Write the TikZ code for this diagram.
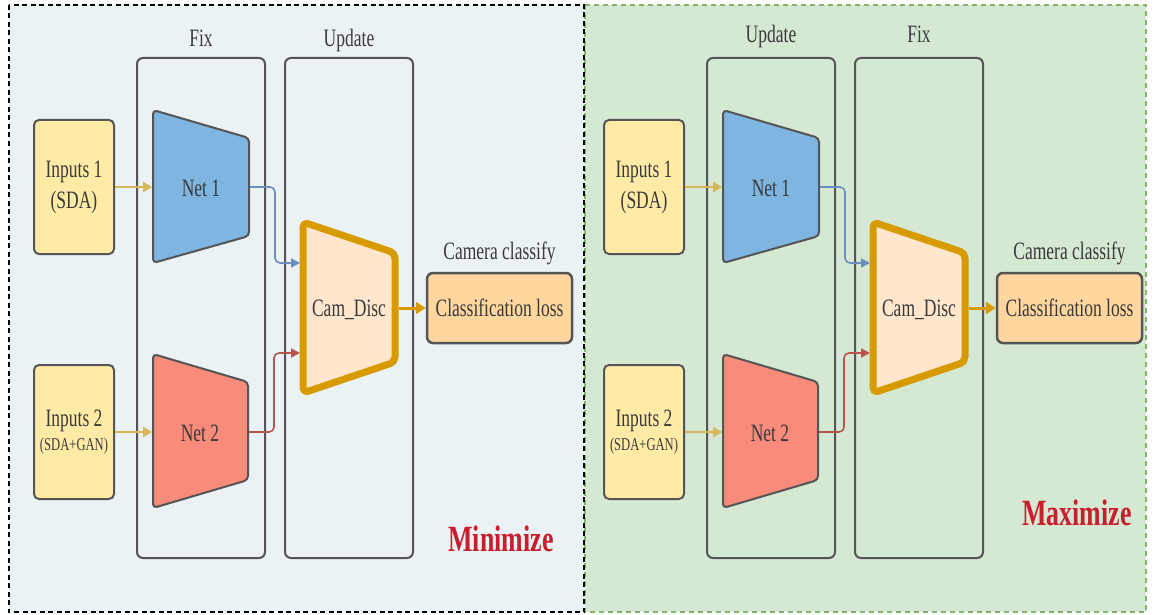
\documentclass[tikz,border=0pt]{standalone}
\usepackage{fontspec}
\usepackage{graphicx}
\setmainfont{Liberation Serif}
\usetikzlibrary{arrows.meta}
\definecolor{leftbg}{HTML}{EBF2F5}
\definecolor{rightbg}{HTML}{D5E8D4}
\definecolor{greenline}{HTML}{82B366}
\definecolor{inyellow}{HTML}{FFEBA6}
\definecolor{netblue}{HTML}{7EB6E1}
\definecolor{netred}{HTML}{F98B7B}
\definecolor{discfill}{HTML}{FFE6CC}
\definecolor{discline}{HTML}{D79B00}
\definecolor{lossfill}{HTML}{FFD69E}
\definecolor{boxline}{HTML}{555555}
\definecolor{txt}{HTML}{3A3A3A}
\definecolor{arrowyellow}{HTML}{D6B656}
\definecolor{arrowblue}{HTML}{6C8EBF}
\definecolor{arrowred}{HTML}{B85450}
\definecolor{wordred}{HTML}{C81E2D}
\newcommand\sq[1]{\scalebox{0.7}[1]{#1}}
\tikzset{
  txtfont/.style={font=\fontsize{25}{31}\selectfont, text=txt},
  inputbox/.style={draw=boxline, line width=2pt, fill=inyellow, rounded corners=5pt,
    minimum width=80pt, minimum height=134pt, inner sep=0pt, txtfont, align=center},
  groupbox/.style={draw=boxline, line width=2pt, rounded corners=6pt,
    minimum width=128pt, minimum height=500pt, inner sep=0pt},
  grouplabel/.style={txtfont, anchor=base},
  netshape/.style={draw=boxline, line width=2pt, rounded corners=4pt},
  disc/.style={draw=discline, fill=discfill, line width=7pt, rounded corners=5pt, line join=round},
  lossbox/.style={draw=boxline, line width=2.5pt, fill=lossfill, rounded corners=6pt,
    minimum width=145pt, minimum height=70pt, inner sep=0pt, txtfont},
  plain/.style={txtfont, inner sep=0pt},
  feed/.style={draw=arrowyellow, line width=2.5pt, -{Triangle[length=9pt,width=10pt]}},
  bluecon/.style={draw=arrowblue, line width=1.6pt, rounded corners=5pt, -{Triangle[length=9pt,width=9pt]}},
  redcon/.style={draw=arrowred, line width=1.6pt, rounded corners=5pt, -{Triangle[length=9pt,width=9pt]}},
  outcon/.style={draw=discline, line width=3pt, -{Triangle[length=10pt,width=12pt]}},
  bigword/.style={font=\fontsize{37}{40}\selectfont\bfseries, text=wordred, anchor=base, inner sep=0pt},
}
\newcommand\DrawPanel[7]{%
  \node[groupbox] (ga#1) at (201,308) {};
  \node[groupbox] (gb#1) at (349,308) {};
  \node[grouplabel] (la#1) at (201,#4) {\sq{#2}};
  \node[grouplabel] (lb#1) at (349,#4) {\sq{#3}};
  \node[inputbox] (in1#1) at (74,187) {\sq{Inputs 1}\\\sq{(SDA)}};
  \node[inputbox] (in2#1) at (74,432) {\begin{tabular}{@{}c@{}}\sq{Inputs 2}\\[-7pt]{\fontsize{18}{22}\selectfont\sq{(SDA+GAN)}}\end{tabular}};
  \draw[netshape, fill=netblue] (153,110) -- (249,138) -- (249,236) -- (153,263) -- cycle;
  \draw[netshape, fill=netred] (153,354) -- (248,382) -- (248,480) -- (153,508) -- cycle;
  \node[plain] (net1#1) at (201,188) {\sq{Net 1}};
  \node[plain] (net2#1) at (200,433) {\sq{Net 2}};
  \coordinate (n1in#1) at (152,187);
  \coordinate (n2in#1) at (152,432);
  \coordinate (n1out#1) at (250,187);
  \coordinate (n2out#1) at (249,432);
  \draw[disc] (303,222) -- (395,253) -- (395,362) -- (303,393) -- cycle;
  \node[plain] (cam#1) at (349,310) {\sq{Cam\_Disc}};
  \coordinate (camin1#1) at (300,263);
  \coordinate (camin2#1) at (300,353);
  \coordinate (camout#1) at (399,308);
  \node[lossbox] (loss#1) at (499.5,308) {\sq{Classification loss}};
  \node[grouplabel] (cc#1) at (499.5,259) {\sq{Camera classify}};
  \node[bigword] (word#1) at (#6,#7) {\sq{#5}};
  \draw[feed] (in1#1.east) -- (n1in#1);
  \draw[feed] (in2#1.east) -- (n2in#1);
  \draw[bluecon] (n1out#1) -- ++(25,0) |- (camin1#1);
  \draw[redcon] (n2out#1) -- ++(25,0) |- (camin2#1);
  \draw[outcon] (camout#1) -- (loss#1.west);
}
\begin{document}
\begin{tikzpicture}[x=1pt, y=-1pt]
  \useasboundingbox (0,0) rectangle (1156,615);
  \fill[white] (0,0) rectangle (1156,615);
  \draw[fill=rightbg, draw=greenline, line width=2pt, dash pattern=on 5pt off 4pt] (585,5) rectangle (1146,612);
  \draw[fill=leftbg, draw=black, line width=2.5pt, dash pattern=on 5pt off 3.5pt] (9,5) rectangle (584,612);
  \begin{scope}
    \DrawPanel{L}{Fix}{Update}{47}{Minimize}{501}{551}
  \end{scope}
  \begin{scope}[xshift=570pt]
    \DrawPanel{R}{Update}{Fix}{43}{Maximize}{507}{525}
  \end{scope}
\end{tikzpicture}
\end{document}
